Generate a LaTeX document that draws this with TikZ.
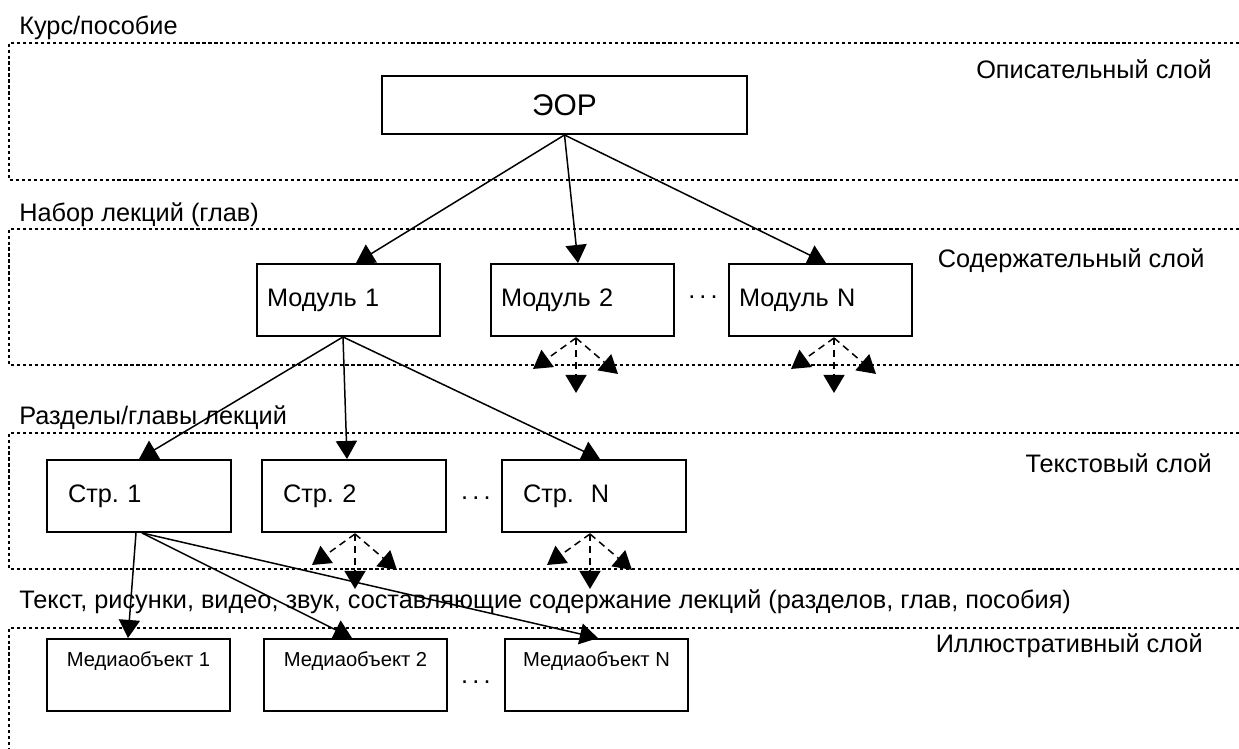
\documentclass[tikz,border=0pt]{standalone}
\usepackage{fontspec}
\setmainfont{Liberation Sans}
\usetikzlibrary{arrows.meta,calc}
\frenchspacing
\newcommand\myfan[1]{%
  \draw[fanarr] (#1) -- ++(-43,31);
  \draw[fanarr] (#1) -- ++(0,55);
  \draw[fanarr] (#1) -- ++(42,36);}
\begin{document}
\begin{tikzpicture}[x=0.02cm,y=-0.02cm,
  every node/.style={inner sep=0pt, font=\fontsize{14.4}{17}\selectfont},
  layer/.style={line width=1.2pt, dash pattern=on 1.8pt off 1.6pt},
  box/.style={draw, line width=1.1pt, fill=white, minimum height=1.44cm},
  modbox/.style={box, minimum width=3.66cm, text width=3.26cm, align=left, inner xsep=0.2cm},
  pagebox/.style={box, minimum width=3.68cm, text width=2.84cm, align=left, inner xsep=0.42cm},
  mediabox/.style={box, minimum width=3.66cm},
  medialabel/.style={label={[anchor=base, label distance=-0.56cm, font=\fontsize{11.5}{14}\selectfont]90:#1}},
  arr/.style={line width=0.85pt, -{Triangle[length=10.3pt,width=12pt]}},
  fanarr/.style={line width=0.85pt, dash pattern=on 4pt off 2.8pt, -{Triangle[length=10.3pt,width=12pt]}},
  dots/.style={anchor=base}
]
\useasboundingbox (0,0) rectangle (1239,749);
% layers
\draw[layer] (1239,43) -| (9,180) -- (1239,180);
\draw[layer] (1239,229) -| (9,365) -- (1239,365);
\draw[layer] (1239,433) -| (9,569) -- (1239,569);
\draw[layer] (1239,628) -| (9,752);
% layer labels
\node[anchor=base west] (l1) at (19,34.5) {Курс/пособие};
\node[anchor=base west] (l2) at (19,222) {Набор лекций (глав)};
\node[anchor=base west] (l3) at (19,424) {Разделы/главы лекций};
\node[anchor=base west] (l4) at (19,608) {Текст, рисунки, видео, звук, составляющие содержание лекций (разделов, глав, пособия)};
\node[anchor=base east] (r1) at (1212,79) {Описательный слой};
\node[anchor=base east] (r2) at (1205,268) {Содержательный слой};
\node[anchor=base east] (r3) at (1212,472) {Текстовый слой};
\node[anchor=base east] (r4) at (1203,652) {Иллюстративный слой};
% boxes
\node[box, minimum width=7.3cm, minimum height=1.16cm, font=\fontsize{17}{20}\selectfont] (eor) at (564.5,105) {ЭОР};
\node[modbox] (m1) at (348.5,300) {Модуль 1};
\node[modbox] (m2) at (582.5,300) {Модуль 2};
\node[modbox] (mN) at (820.5,300) {Модуль N};
\node[dots] (d1) at (703,298.5) {.\,.\,.};
\node[pagebox] (s1) at (139,496) {Стр. 1};
\node[pagebox] (s2) at (354,496) {Стр. 2};
\node[pagebox] (sN) at (594,496) {Стр.\ \ N};
\node[dots] (d2) at (476,499) {.\,.\,.};
\node[mediabox, medialabel={Медиаобъект 1}] (o1) at (138.5,675) {};
\node[mediabox, medialabel={Медиаобъект 2}] (o2) at (355.5,675) {};
\node[mediabox, medialabel={Медиаобъект N}] (oN) at (596.5,675) {};
\node[dots] (d3) at (476,683) {.\,.\,.};
% connectors
\draw[arr] (eor.south) -- ($(m1.north)+(7.5,0)$);
\draw[arr] (eor.south) -- ($(m2.north)+(-4.5,0)$);
\draw[arr] (eor.south) -- ($(mN.north)+(5.5,0)$);
\coordinate (m1o) at ($(m1.south)+(-5.5,0)$);
\draw[arr] (m1o) -- (s1.north);
\draw[arr] (m1o) -- ($(s2.north)+(-7,0)$);
\draw[arr] (m1o) -- ($(sN.north)+(6,0)$);
\draw[arr] ($(s1.south)+(-3,0)$) -- ($(o1.north)+(-10.5,0)$);
\draw[arr] ($(s1.south)+(3,0)$) -- ($(o2.north)+(-3.5,0)$);
\draw[arr] ($(s1.south)+(3,0)$) -- ($(oN.north)+(1.5,0)$);
% fans
\coordinate (f1) at ($(m2.south)+(-6.5,1)$);
\coordinate (f2) at ($(mN.south)+(13.5,1)$);
\coordinate (f3) at ($(s2.south)+(1,1)$);
\coordinate (f4) at ($(sN.south)+(-4,1)$);
\myfan{f1}
\myfan{f2}
\myfan{f3}
\myfan{f4}
\end{tikzpicture}
\end{document}
